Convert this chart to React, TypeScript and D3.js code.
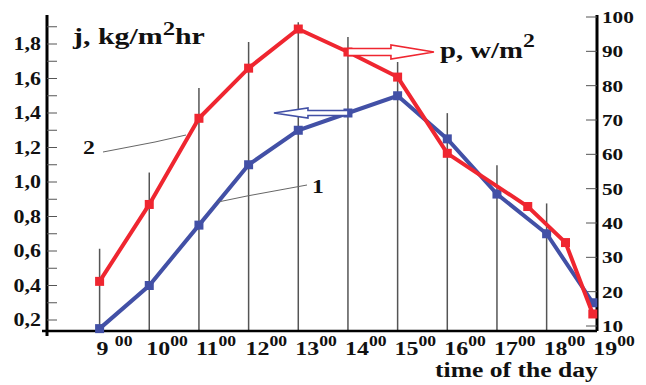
import React from "react";
import * as d3 from "d3";

// hours of the day (x) and the two series
const hours = [9, 10, 11, 12, 13, 14, 15, 16, 17, 18, 19];
const hourLabels = ["9", "10", "11", "12", "13", "14", "15", "16", "17", "18", "19"];
const gridHours = [9, 10, 11, 12, 13, 14, 15, 16, 17, 18];
const gridTop = [32.5, 54.7, 79.3, 92.7, 98.5, 94.2, 86.9, 72.0, 56.8, 45.7]; // right axis units

// curve 1: j, kg/m2hr (left axis)
const jHours = [9, 10, 11, 12, 13, 14, 15, 16, 17, 18, 18.93];
const jValues = [0.15, 0.4, 0.75, 1.1, 1.3, 1.4, 1.5, 1.25, 0.93, 0.7, 0.3];

// curve 2: p, w/m2 (right axis)
const pHours = [9, 10, 11, 12, 13, 14, 15, 16, 17.62, 18.38, 18.93];
const pValues = [23, 45.4, 70.5, 85.1, 96.5, 89.8, 82.5, 60.3, 44.8, 34.3, 13.5];

const leftTicks = [0.2, 0.4, 0.6, 0.8, 1.0, 1.2, 1.4, 1.6, 1.8];
const leftMinor = [0.3, 0.5, 0.7, 0.9, 1.1, 1.3, 1.5, 1.7, 1.9];
const rightTicks = [10, 20, 30, 40, 50, 60, 70, 80, 90, 100];

const BLUE = "#4250a6";
const RED = "#ef2630";
const FONT = "'Liberation Serif', 'Times New Roman', serif";

const x = d3.scaleLinear().domain([9, 19]).range([99.6, 596.3]);
const yL = d3.scaleLinear().domain([0.2, 1.8]).range([320, 44]);
const yR = d3.scaleLinear().domain([10, 100]).range([326, 17]);

const axisY = 331;
const leftX = 47;
const rightX = 597;

function SText({ x, y, sx = 1.28, size, anchor = "start", children }: any) {
  return (
    <g transform={`translate(${x},${y}) scale(${sx},1)`}>
      <text fontSize={size} textAnchor={anchor} fontWeight="bold" fontFamily={FONT} fill="#111">
        {children}
      </text>
    </g>
  );
}

export default function App() {
  const jLine = d3.line<number>().x((d, i) => x(jHours[i])).y((d) => yL(d));
  const pLine = d3.line<number>().x((d, i) => x(pHours[i])).y((d) => yR(d));

  // hollow arrows anchored at the 14:00 points
  const rx = x(pHours[5]), ry = yR(pValues[5]);
  const redArrow = `M${rx},${ry - 3.5}H${rx + 43}V${ry - 7}L${rx + 86},${ry}L${rx + 43},${ry + 7}V${ry + 3.5}H${rx}Z`;
  const bx = x(jHours[5]), by = yL(jValues[5]);
  const blueArrow = `M${bx},${by - 2.5}H${bx - 40}V${by - 5}L${bx - 74},${by}L${bx - 40},${by + 5}V${by + 2.5}H${bx}Z`;

  return (
    <svg width={646} height={385} style={{ position: "absolute", left: 0, top: 0, background: "#fff" }}>
      {/* vertical hour lines */}
      {gridHours.map((h, i) => (
        <line key={h} x1={x(h)} x2={x(h)} y1={yR(gridTop[i])} y2={axisY} stroke="#555" strokeWidth={1.5} />
      ))}

      {/* left axis */}
      <line x1={leftX} x2={leftX} y1={15} y2={336} stroke="#000" strokeWidth={3} />
      {leftTicks.concat(leftMinor).map((v) => (
        <line key={"l" + v} x1={leftX} x2={leftX + 10} y1={yL(v)} y2={yL(v)} stroke="#555" strokeWidth={1} />
      ))}
      {leftTicks.map((v) => (
        <SText key={"lt" + v} x={41} y={yL(v) + 6} size={18} sx={1.22} anchor="end">
          {d3.format(".1f")(v).replace(".", ",")}
        </SText>
      ))}

      {/* right axis */}
      <line x1={rightX} x2={rightX} y1={15} y2={axisY} stroke="#000" strokeWidth={3} />
      {rightTicks.map((v) => (
        <line key={"r" + v} x1={rightX - 11} x2={rightX} y1={yR(v)} y2={yR(v)} stroke="#555" strokeWidth={1} />
      ))}
      {rightTicks.map((v) => (
        <SText key={"rt" + v} x={602} y={yR(v) + 6} size={17} sx={1.25}>
          {v}
        </SText>
      ))}

      {/* bottom axis */}
      <line x1={42} x2={rightX} y1={axisY} y2={axisY} stroke="#000" strokeWidth={2.5} />
      {hours.map((h, i) => (
        <SText key={"x" + h} x={x(h) - 3} y={355} size={19} sx={1.26}>
          {hourLabels[i]}
          <tspan dx={h === 9 ? 5 : 0} dy={-9} fontSize={14}>00</tspan>
        </SText>
      ))}
      <SText x={435} y={377} size={21} sx={1.22}>time of the day</SText>

      {/* curves */}
      <path d={jLine(jValues) || ""} fill="none" stroke={BLUE} strokeWidth={4} />
      {jValues.map((v, i) => (
        <rect key={"jm" + i} x={x(jHours[i]) - 4.5} y={yL(v) - 4.5} width={9} height={9} fill={BLUE} />
      ))}
      <path d={pLine(pValues) || ""} fill="none" stroke={RED} strokeWidth={4} />
      {pValues.map((v, i) => (
        <rect key={"pm" + i} x={x(pHours[i]) - 4.5} y={yR(v) - 4.5} width={9} height={9} fill={RED} />
      ))}

      {/* arrows */}
      <path d={redArrow} fill="#fff" stroke={RED} strokeWidth={1.6} />
      <path d={blueArrow} fill="#fff" stroke={BLUE} strokeWidth={1.6} />

      {/* curve labels with leader lines */}
      <polyline points="103,152 155,142 186,135" fill="none" stroke="#666" strokeWidth={1} />
      <SText x={83} y={154} size={19} sx={1.25}>2</SText>
      <polyline points="307,185 247,196 218,202" fill="none" stroke="#666" strokeWidth={1} />
      <SText x={312} y={193} size={19} sx={1.25}>1</SText>

      {/* titles */}
      <SText x={73} y={44} size={23} sx={1.3}>
        j, kg/m<tspan dy={-9} fontSize={19}>2</tspan><tspan dy={9}>hr</tspan>
      </SText>
      <SText x={440} y={58} size={23} sx={1.25}>
        p, w/m<tspan dy={-11} fontSize={19}>2</tspan>
      </SText>
    </svg>
  );
}
